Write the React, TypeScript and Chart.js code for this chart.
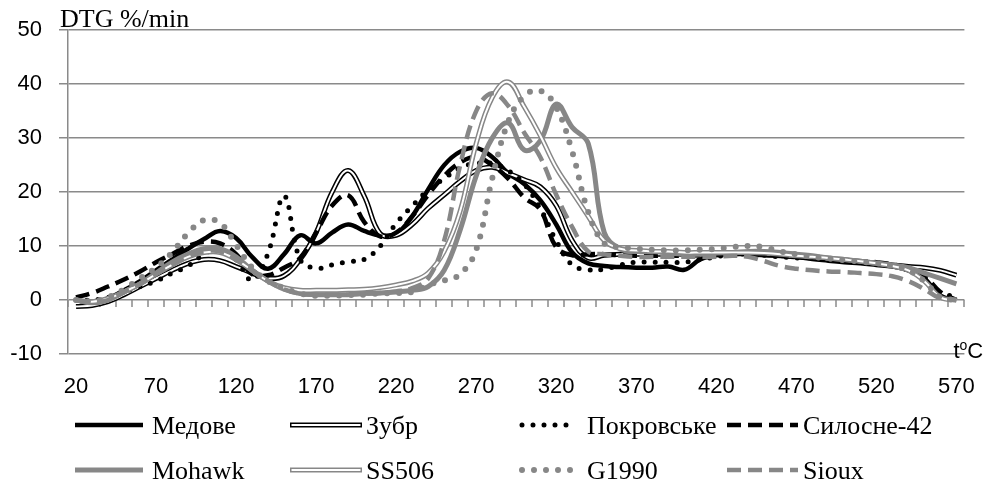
import React, { useEffect, useRef } from "react";
import { Chart, registerables } from "chart.js";

Chart.register(...registerables);

// ---- data ----
const temperatures = [
  20, 30, 40, 50, 60, 70, 80, 90, 100, 110,
  120, 130, 140, 150, 160, 170, 180, 190, 200, 210,
  220, 230, 240, 250, 260, 270, 280, 290, 300, 310,
  320, 330, 340, 350, 360, 370, 380, 390, 400, 410,
  420, 430, 440, 450, 460, 470, 480, 490, 500, 510,
  520, 530, 540, 550, 560, 570,
];

const medove = [
  0, -0.5, 0.3, 1.8, 3.5, 5.5, 7.5, 9.5, 11.3, 12.8,
  11.5, 8, 5.8, 8.5, 12, 10.5, 12.5, 14, 12.8, 12,
  12.3, 15.5, 20.5, 25, 27.5, 28.2, 26.5, 23.5, 21.5, 18.5,
  14, 8.8, 6.8, 6.3, 6.1, 6, 6, 6.2, 5.6, 7.5,
  8.3, 8.5, 8.5, 8.3, 8.2, 8, 7.6, 7.3, 7, 6.8,
  6.5, 6.2, 5.5, 4, 0.8, 0,
];

const zubr = [
  -1.2, -1, -0.3, 1, 2.5, 4, 5.5, 6.8, 7.5, 7.3,
  6.2, 5, 4, 4.5, 7.5, 12.5, 20, 24, 19.3, 12.3,
  12, 14, 17, 19.5, 22, 24, 24.6, 23.5, 22.3, 21,
  17.5, 11, 7.8, 8.3, 8.5, 8.5, 8.5, 8.5, 8.5, 8.5,
  8.5, 8.7, 8.7, 8.5, 8.2, 8, 7.8, 7.5, 7.3, 7,
  6.8, 6.5, 6.2, 6, 5.5, 4.6,
];

const pokrovske = [
  0, 0, 0.5, 1.5, 2.5, 3.5, 5, 6.3, 8.5, 9.5,
  7.5, 3.7, 8.7, 19.3, 7.5, 5.9, 6.5, 7.1, 7.5, 10,
  14.2, 17.4, 20.4, 22.5, 24.5, 25.3, 25.3, 24, 21.5, 17,
  11, 6.5, 5.6, 5.7, 6.5, 7, 7, 7, 7, 7.5,
  8, 8.5, 8.5, 8.3, 8, 7.8, 7.8, 7.5, 7.2, 7,
  6.8, 6.3, 5.5, 4, 0.5, 1.5,
];

const sylosne42 = [
  0.5, 1.3, 2.5, 3.8, 5.3, 7, 8.5, 10, 10.8, 10.5,
  8.5, 4.8, 4.6, 6, 7.8, 12.5, 17.5, 19.4, 14.5, 11.8,
  12.5, 15.5, 19.5, 23, 25.5, 26.5, 25, 22.5, 19, 16.8,
  9.8, 8.3, 8.5, 8.5, 8.3, 8.2, 8.2, 8.2, 8.2, 8.3,
  8.5, 8.6, 8.6, 8.5, 8.3, 8, 7.8, 7.6, 7.4, 7.2,
  7, 6.6, 6, 4.5, 1.5, 0,
];

const mohawk = [
  0, -0.5, 0, 1.5, 3, 5, 7, 8.5, 9.5, 9.5,
  8, 5.5, 3.5, 2, 1.2, 1, 1, 1, 1.2, 1.3,
  1.5, 1.8, 2.5, 5.5, 13, 23, 30, 32.8, 27.8, 29.5,
  36.3, 32, 29, 12.5, 9.5, 9, 9, 8.7, 8.5, 8.5,
  8.7, 8.8, 9, 9, 8.8, 8.5, 8.2, 7.8, 7.5, 7.2,
  6.8, 6.5, 6, 5, 4, 3,
];

const ss506 = [
  0, -0.3, 0.3, 1.5, 3, 4.8, 6.5, 8, 8.8, 8.8,
  7.5, 5.5, 3.5, 2.3, 1.8, 1.8, 1.8, 1.9, 2, 2.3,
  2.8, 3.5, 5, 9, 16.5, 29, 37.5, 40.4, 35.8, 30.5,
  24.5, 20, 15.5, 11, 9.5, 9.2, 9, 9, 8.8, 8.8,
  8.8, 8.8, 8.8, 8.7, 8.5, 8.2, 8, 7.8, 7.5, 7.2,
  6.8, 6.3, 5.5, 3.5, 0.5, 0,
];

const g1990 = [
  0, -0.2, 0.5, 2, 4, 6, 8.8, 12.4, 14.8, 14.3,
  10.2, 6, 3.5, 2.2, 1.2, 0.8, 0.8, 0.9, 1, 1.2,
  1.3, 1.5, 2.8, 3.6, 4.8, 9.3, 22.5, 33, 37.8, 38.8,
  35.7, 27.5, 16.3, 10.5, 9.8, 9.5, 9.3, 9.2, 9.2, 9.3,
  9.5, 9.8, 10, 9.8, 9, 8.5, 8, 7.7, 7.4, 7.1,
  6.8, 6.3, 5.5, 3.5, 0.5, 0,
];

const sioux = [
  0, -0.5, 0, 1.5, 3, 4.8, 6.5, 8, 9, 9,
  7.5, 5.5, 3.5, 2, 1.2, 1, 1, 1, 1.2, 1.3,
  1.6, 2.2, 4, 11, 25, 35, 38.3, 36, 31, 26.5,
  19.5, 13.5, 9, 8.5, 8.2, 8, 8, 8, 8, 8,
  8, 8.2, 8, 7.2, 6.3, 5.8, 5.5, 5.3, 5.2, 5,
  4.8, 4.4, 3.5, 2, 0.3, 0,
];

const seriesNames = [
  "Медове", "Зубр", "Покровське", "Силосне-42",
  "Mohawk", "SS506", "G1990", "Sioux",
];

const xTickLabels = [20, 70, 120, 170, 220, 270, 320, 370, 420, 470, 520, 570];
const yTitle = "DTG %/min";

// ---- styles ----
const BLACK = "#000000";
const GREY = "#878787";
const GRID = "#8a8a8a";
const SANS = "'Liberation Sans', Arial, sans-serif";
const SERIF = "'Liberation Serif', 'Times New Roman', serif";

type Style = {
  color: string;
  width: number;
  dash: number[];
  cap: CanvasLineCap;
  inner?: number; // width of white inner stripe for double lines
};

const styles: Style[] = [
  { color: BLACK, width: 4.5, dash: [], cap: "butt" },
  { color: BLACK, width: 5, dash: [], cap: "butt", inner: 2 },
  { color: BLACK, width: 5, dash: [0, 11], cap: "round" },
  { color: BLACK, width: 4.5, dash: [14, 7], cap: "butt" },
  { color: GREY, width: 5, dash: [], cap: "butt" },
  { color: GREY, width: 5, dash: [], cap: "butt", inner: 2 },
  { color: GREY, width: 6, dash: [0, 12], cap: "round" },
  { color: GREY, width: 4.5, dash: [14, 7], cap: "butt" },
];

const seriesValues = [medove, zubr, pokrovske, sylosne42, mohawk, ss506, g1990, sioux];

function buildDatasets() {
  const list: any[] = [];
  seriesValues.forEach((vals, i) => {
    const st = styles[i];
    const data = temperatures.map((t, k) => ({ x: t, y: vals[k] }));
    list.push({
      label: seriesNames[i],
      data,
      borderColor: st.color,
      borderWidth: st.width,
      borderDash: st.dash,
      borderCapStyle: st.cap,
      borderJoinStyle: "round",
      pointRadius: 0,
      tension: 0.4,
      fill: false,
    });
    if (st.inner) {
      list.push({
        label: seriesNames[i] + "_inner",
        data,
        borderColor: "#ffffff",
        borderWidth: st.inner,
        borderDash: [],
        borderCapStyle: "butt",
        borderJoinStyle: "round",
        pointRadius: 0,
        tension: 0.4,
        fill: false,
      });
    }
  });
  // later in list => drawn on top
  list.forEach((d, idx) => (d.order = -idx));
  return list;
}

const axisTicksPlugin = {
  id: "zeroAxisTicks",
  beforeDatasetsDraw(chart: any) {
    const { ctx, scales } = chart;
    const x = scales.x;
    const y = scales.y;
    const y0 = Math.round(y.getPixelForValue(0));
    ctx.save();
    ctx.strokeStyle = GRID;
    ctx.lineWidth = 1.5;
    ctx.beginPath();
    for (let b = x.min; b <= x.max + 0.001; b += 10) {
      const px = Math.round(x.getPixelForValue(b));
      ctx.moveTo(px, y0);
      ctx.lineTo(px, y0 + 7);
    }
    ctx.stroke();
    ctx.restore();
  },
};

function drawSample(ctx: CanvasRenderingContext2D, st: Style, x0: number, x1: number, y: number) {
  ctx.save();
  ctx.strokeStyle = st.color;
  ctx.lineWidth = st.width;
  ctx.setLineDash(st.dash);
  ctx.lineCap = st.cap;
  ctx.beginPath();
  ctx.moveTo(x0, y);
  ctx.lineTo(x1, y);
  ctx.stroke();
  if (st.inner) {
    ctx.strokeStyle = "#ffffff";
    ctx.lineWidth = st.inner;
    ctx.setLineDash([]);
    ctx.beginPath();
    ctx.moveTo(x0 + 1.5, y);
    ctx.lineTo(x1 - 1.5, y);
    ctx.stroke();
  }
  ctx.restore();
}

const textPlugin = {
  id: "texts",
  afterDraw(chart: any) {
    const { ctx, chartArea } = chart;
    ctx.save();
    // y-axis title
    ctx.fillStyle = "#000";
    ctx.font = `26px ${SERIF}`;
    ctx.textAlign = "left";
    ctx.textBaseline = "alphabetic";
    ctx.fillText(yTitle, chartArea.left - 8, 27);

    // t°C
    ctx.font = `22px ${SANS}`;
    let tx = chartArea.right - 11;
    const ty = chartArea.bottom + 4;
    ctx.fillText("t", tx, ty);
    tx += ctx.measureText("t").width;
    ctx.font = `14px ${SANS}`;
    ctx.fillText("o", tx, ty - 8);
    tx += ctx.measureText("o").width;
    ctx.font = `22px ${SANS}`;
    ctx.fillText("C", tx, ty);

    // legend
    const lineStart = [75, 290, 522, 727];
    const lineEnd = [143, 362, 575, 798];
    const textX = [152, 366, 587, 803];
    const rowY = [425, 470];
    ctx.font = `26px ${SERIF}`;
    for (let i = 0; i < seriesNames.length; i++) {
      const col = i % 4;
      const row = Math.floor(i / 4);
      drawSample(ctx, styles[i], lineStart[col], lineEnd[col], rowY[row]);
      ctx.fillStyle = "#000";
      ctx.textBaseline = "alphabetic";
      ctx.fillText(seriesNames[i], textX[col], rowY[row] + 9);
    }
    ctx.restore();
  },
};

export default function App() {
  const canvasRef = useRef<HTMLCanvasElement | null>(null);

  useEffect(() => {
    const canvas = canvasRef.current;
    if (!canvas) return;
    const chart = new Chart(canvas, {
      type: "line",
      data: { datasets: buildDatasets() },
      options: {
        responsive: false,
        animation: false,
        devicePixelRatio: 1,
        layout: { padding: { top: 30, right: 27, left: 0, bottom: 0 } },
        plugins: {
          legend: { display: false },
          tooltip: { enabled: false },
          title: { display: false },
        },
        scales: {
          x: {
            type: "linear",
            min: 15,
            max: 575,
            afterBuildTicks: (s: any) => {
              s.ticks = xTickLabels.map((v) => ({ value: v }));
            },
            afterFit: (s: any) => {
              s.height = 130;
            },
            grid: { display: false, drawTicks: false },
            border: { display: false },
            ticks: {
              autoSkip: false,
              maxRotation: 0,
              color: "#000",
              padding: 20,
              font: { family: SANS, size: 22 },
              callback: (v: any) => String(v),
            },
          },
          y: {
            min: -10,
            max: 50,
            afterFit: (s: any) => {
              s.width = 68;
            },
            grid: { color: GRID, lineWidth: 1.5, tickLength: 9 },
            border: { color: GRID, width: 1.5 },
            ticks: {
              stepSize: 10,
              color: "#000",
              padding: 17,
              font: { family: SANS, size: 22 },
            },
          },
        },
      },
      plugins: [axisTicksPlugin, textPlugin],
    } as any);
    return () => chart.destroy();
  }, []);

  return (
    <div style={{ position: "fixed", left: 0, top: 0, width: 995, height: 484, background: "#fff" }}>
      <canvas ref={canvasRef} width={995} height={484} style={{ width: 995, height: 484 }} />
    </div>
  );
}
